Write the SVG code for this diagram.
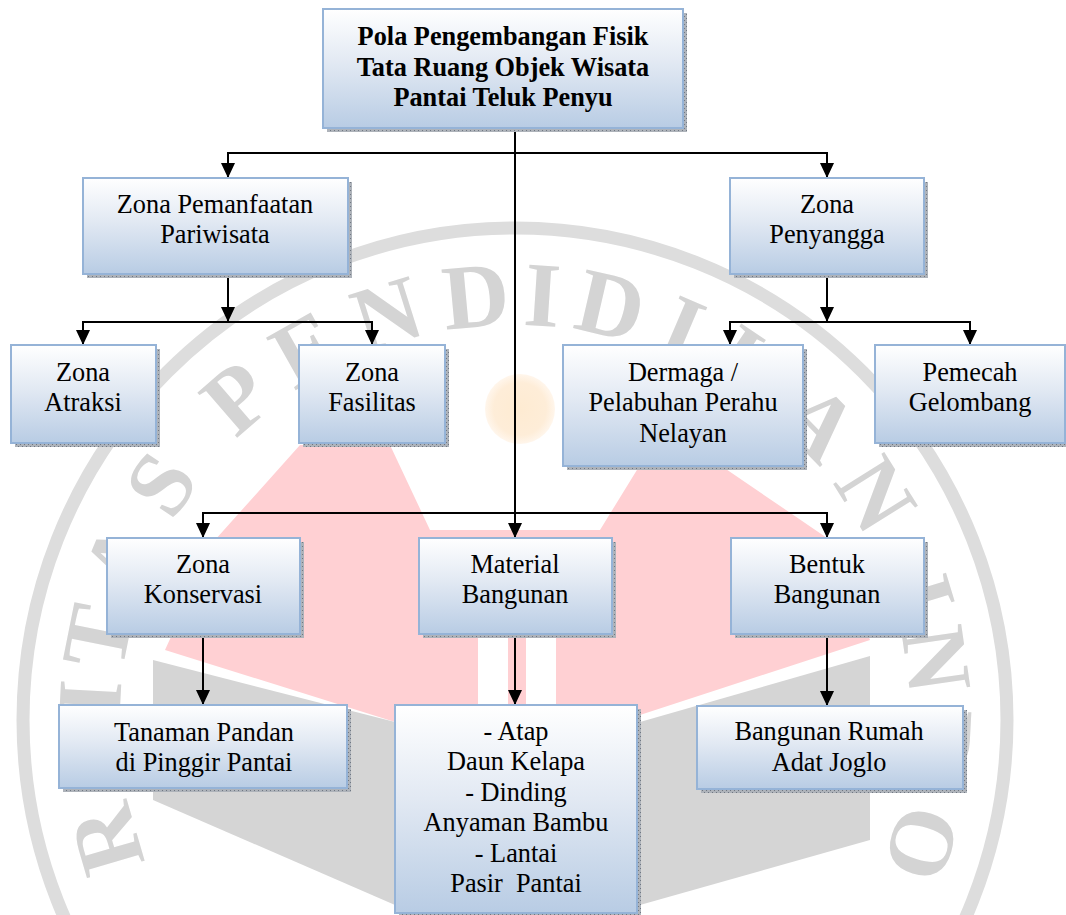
<svg xmlns="http://www.w3.org/2000/svg" width="1066" height="915" viewBox="0 0 1066 915">
<defs>
<linearGradient id="boxGrad" x1="0" y1="0" x2="0" y2="1">
<stop offset="0" stop-color="#ffffff"/>
<stop offset="0.45" stop-color="#e2e9f3"/>
<stop offset="1" stop-color="#b8cce4"/>
</linearGradient>
<radialGradient id="sunGrad">
<stop offset="0" stop-color="#feebd2"/>
<stop offset="0.75" stop-color="#feedd8"/>
<stop offset="1" stop-color="#fff6ec"/>
</radialGradient>
<pattern id="shadowPat" patternUnits="userSpaceOnUse" width="4" height="4">
<rect width="4" height="4" fill="#aeb3ba"/>
<rect x="0" y="0" width="1" height="1" fill="#6f7782"/>
<rect x="2" y="2" width="1" height="1" fill="#6f7782"/>
</pattern>
<marker id="arrow" markerUnits="userSpaceOnUse" viewBox="0 0 15 14" markerWidth="15" markerHeight="14" refX="15" refY="7" orient="auto">
<path d="M0,0 L15,7 L0,14 Z" fill="#000"/>
</marker>
<style>
.shadow{fill:url(#shadowPat);}
.box{fill:url(#boxGrad);stroke:#95b3d7;stroke-width:2;}
.lbl{font-family:"Liberation Serif","Times New Roman",serif;font-size:26.3px;fill:#000;text-anchor:middle;}
.bold{font-weight:bold;}
.conn{fill:none;stroke:#000;stroke-width:2;}
.wm{font-family:"Liberation Serif","Times New Roman",serif;font-size:92px;font-weight:bold;fill:#d4d4d4;text-anchor:middle;}
</style>
</defs>
<rect width="1066" height="915" fill="#ffffff"/>

<g id="watermark">
<circle cx="515" cy="720" r="492" fill="none" stroke="#dddddd" stroke-width="13"/>
<path d="M300,445 L390,445 L430,530 L600,530 L640,465 L720,465 L830,540 L870,640 L640,715 L520,705 L395,722 L165,650 L215,540 Z" fill="#ffd0d3"/>
<rect x="478" y="634" width="30" height="75" fill="#ffffff"/>
<rect x="526" y="634" width="30" height="75" fill="#ffffff"/>
<circle cx="520" cy="409" r="35" fill="url(#sunGrad)"/>
<path d="M153,660 L395,722 L395,905 L153,800 Z" fill="#d5d5d5"/>
<path d="M640,722 L870,656 L870,840 L640,905 Z" fill="#d5d5d5"/>
<g class="wm">
<text x="515" y="325" transform="rotate(-106.3 515 720)">R</text>
<text x="515" y="325" transform="rotate(-96.5 515 720)">S</text>
<text x="515" y="325" transform="rotate(-87 515 720)">I</text>
<text x="515" y="325" transform="rotate(-78.7 515 720)">T</text>
<text x="515" y="325" transform="rotate(-67.5 515 720)">A</text>
<text x="515" y="325" transform="rotate(-56.3 515 720)">S</text>
<text x="515" y="325" transform="rotate(-40.8 515 720)">P</text>
<text x="515" y="325" transform="rotate(-29.4 515 720)">E</text>
<text x="515" y="325" transform="rotate(-17.5 515 720)">N</text>
<text x="515" y="325" transform="rotate(-5.3 515 720)">D</text>
<text x="515" y="325" transform="rotate(3.7 515 720)">I</text>
<text x="515" y="325" transform="rotate(13 515 720)">D</text>
<text x="515" y="325" transform="rotate(23.1 515 720)">I</text>
<text x="515" y="325" transform="rotate(34 515 720)">K</text>
<text x="515" y="325" transform="rotate(45.6 515 720)">A</text>
<text x="515" y="325" transform="rotate(58 515 720)">N</text>
<text x="515" y="325" transform="rotate(73 515 720)">I</text>
<text x="515" y="325" transform="rotate(81.8 515 720)">N</text>
<text x="515" y="325" transform="rotate(93 515 720)">D</text>
<text x="515" y="325" transform="rotate(106.9 515 720)">O</text>
</g>
</g>

<g id="connectors" class="conn">
<path d="M515,128 V538" marker-end="url(#arrow)"/>
<path d="M515,153 H228 V178" marker-end="url(#arrow)"/>
<path d="M515,153 H827 V178" marker-end="url(#arrow)"/>
<path d="M228,274 V322" marker-end="url(#arrow)"/>
<path d="M228,322 H83 V345" marker-end="url(#arrow)"/>
<path d="M228,322 H372 V345" marker-end="url(#arrow)"/>
<path d="M827,274 V322" marker-end="url(#arrow)"/>
<path d="M827,322 H730 V345" marker-end="url(#arrow)"/>
<path d="M827,322 H970 V345" marker-end="url(#arrow)"/>
<path d="M515,513 H203 V538" marker-end="url(#arrow)"/>
<path d="M515,513 H827 V538" marker-end="url(#arrow)"/>
<path d="M203,634 V705" marker-end="url(#arrow)"/>
<path d="M515,634 V705" marker-end="url(#arrow)"/>
<path d="M827,634 V706" marker-end="url(#arrow)"/>
</g>

<g id="node-top">
<rect class="shadow" x="327" y="13" width="360" height="119"/>
<rect class="box" x="323" y="9" width="360" height="119"/>
<text class="lbl bold"><tspan x="503" y="45">Pola Pengembangan Fisik</tspan><tspan x="503" y="76">Tata Ruang Objek Wisata</tspan><tspan x="503" y="106">Pantai Teluk Penyu</tspan></text>
</g>

<g id="node-pemanfaatan">
<rect class="shadow" x="87" y="182" width="265" height="96"/>
<rect class="box" x="83" y="178" width="265" height="96"/>
<text class="lbl"><tspan x="215" y="213">Zona Pemanfaatan</tspan><tspan x="215" y="243">Pariwisata</tspan></text>
</g>

<g id="node-penyangga">
<rect class="shadow" x="734" y="182" width="194" height="96"/>
<rect class="box" x="730" y="178" width="194" height="96"/>
<text class="lbl"><tspan x="827" y="213">Zona</tspan><tspan x="827" y="243">Penyangga</tspan></text>
</g>

<g id="node-atraksi">
<rect class="shadow" x="15" y="349" width="145" height="98"/>
<rect class="box" x="11" y="345" width="145" height="98"/>
<text class="lbl"><tspan x="83" y="381">Zona</tspan><tspan x="83" y="411">Atraksi</tspan></text>
</g>

<g id="node-fasilitas">
<rect class="shadow" x="303" y="349" width="146" height="98"/>
<rect class="box" x="299" y="345" width="146" height="98"/>
<text class="lbl"><tspan x="372" y="381">Zona</tspan><tspan x="372" y="411">Fasilitas</tspan></text>
</g>

<g id="node-dermaga">
<rect class="shadow" x="567" y="349" width="240" height="121"/>
<rect class="box" x="563" y="345" width="240" height="121"/>
<text class="lbl"><tspan x="683" y="381">Dermaga /</tspan><tspan x="683" y="411">Pelabuhan Perahu</tspan><tspan x="683" y="442">Nelayan</tspan></text>
</g>

<g id="node-pemecah">
<rect class="shadow" x="879" y="349" width="190" height="98"/>
<rect class="box" x="875" y="345" width="190" height="98"/>
<text class="lbl"><tspan x="970" y="381">Pemecah</tspan><tspan x="970" y="411">Gelombang</tspan></text>
</g>

<g id="node-konservasi">
<rect class="shadow" x="111" y="542" width="193" height="96"/>
<rect class="box" x="107" y="538" width="193" height="96"/>
<text class="lbl"><tspan x="203" y="573">Zona</tspan><tspan x="203" y="603">Konservasi</tspan></text>
</g>

<g id="node-material">
<rect class="shadow" x="423" y="542" width="193" height="96"/>
<rect class="box" x="419" y="538" width="193" height="96"/>
<text class="lbl"><tspan x="515" y="573">Material</tspan><tspan x="515" y="603">Bangunan</tspan></text>
</g>

<g id="node-bentuk">
<rect class="shadow" x="735" y="542" width="193" height="96"/>
<rect class="box" x="731" y="538" width="193" height="96"/>
<text class="lbl"><tspan x="827" y="573">Bentuk</tspan><tspan x="827" y="603">Bangunan</tspan></text>
</g>

<g id="node-tanaman">
<rect class="shadow" x="63" y="709" width="288" height="83"/>
<rect class="box" x="59" y="705" width="288" height="83"/>
<text class="lbl"><tspan x="204" y="741">Tanaman Pandan</tspan><tspan x="204" y="771">di Pinggir Pantai</tspan></text>
</g>

<g id="node-material-list">
<rect class="shadow" x="399" y="709" width="242" height="208"/>
<rect class="box" x="395" y="705" width="242" height="208"/>
<text class="lbl" xml:space="preserve"><tspan x="516" y="740">- Atap</tspan><tspan x="516" y="770">Daun Kelapa</tspan><tspan x="516" y="801">- Dinding</tspan><tspan x="516" y="831">Anyaman Bambu</tspan><tspan x="516" y="862">- Lantai</tspan><tspan x="516" y="892">Pasir  Pantai</tspan></text>
</g>

<g id="node-rumah">
<rect class="shadow" x="701" y="710" width="266" height="83"/>
<rect class="box" x="697" y="706" width="266" height="83"/>
<text class="lbl"><tspan x="829" y="740">Bangunan Rumah</tspan><tspan x="829" y="771">Adat Joglo</tspan></text>
</g>
</svg>
